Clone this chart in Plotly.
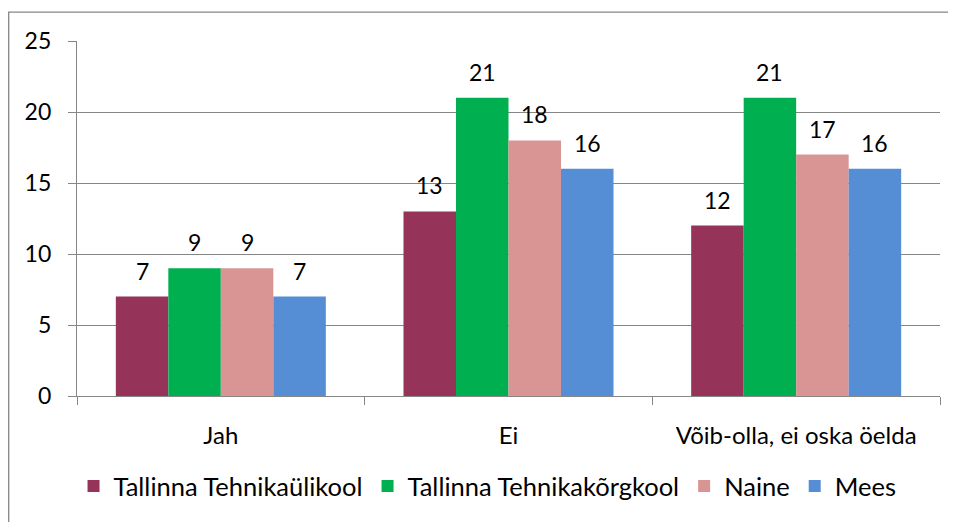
import plotly.graph_objects as go

categories = ["Jah", "Ei", "Võib-olla, ei oska öelda"]
series_names = ["Tallinna Tehnikaülikool", "Tallinna Tehnikakõrgkool", "Naine", "Mees"]
ttu = [7, 13, 12]
tthk = [9, 21, 21]
naine = [9, 18, 17]
mees = [7, 16, 16]
colors = ["#953359", "#00B050", "#D99594", "#558ED5"]

FONT = "Lato"
BARGAP = 0.27
series = [ttu, tthk, naine, mees]

fig = go.Figure()
for name, vals, col in zip(series_names, series, colors):
    fig.add_trace(go.Bar(
        x=categories, y=vals, name=name, marker=dict(color=col, line=dict(width=0)),
    ))

# data labels above bars, placed at each bar's group offset
n = len(series)
bw = (1 - BARGAP) / n
for si, vals in enumerate(series):
    off = -(1 - BARGAP) / 2 + bw * (si + 0.5)
    for ci, v in enumerate(vals):
        fig.add_annotation(x=ci + off, y=v, xref="x", yref="y", text=str(v),
                           showarrow=False, yanchor="bottom", yshift=10,
                           font=dict(family=FONT, size=23, color="#000000"))

OFF = 8  # browser body margin
L, T, R, B = 77 - OFF, 41 - OFF, 940 - OFF, 398 - OFF
W, H = 956 - OFF, 522 - OFF
pw, ph = R - L, B - T
fig.add_shape(type="rect", xref="paper", yref="paper",
              x0=(0.7 - L) / pw, x1=(W + 20 - L) / pw,
              y0=(B - (H + 20)) / ph, y1=1 + (T - 4) / ph,
              line=dict(color="#868686", width=1.3), fillcolor="rgba(0,0,0,0)", layer="below")

fig.update_layout(
    width=W, height=H,
    margin=dict(l=L, r=W - R, t=T, b=H - B),
    paper_bgcolor="white", plot_bgcolor="white",
    barmode="group", bargap=BARGAP, bargroupgap=0,
    font=dict(family=FONT, size=23, color="#000000"),
    showlegend=True,
    legend=dict(orientation="h", x=0.4757, xanchor="center", y=(B - 481) / ph, yanchor="middle",
                font=dict(family=FONT, size=25.5), itemwidth=30, tracegroupgap=0),
)
fig.update_xaxes(type="category", showline=True, linecolor="#868686", linewidth=1.3,
                 ticks="outside", ticklen=8, tickcolor="#868686", tickwidth=1.3,
                 tickson="boundaries", showgrid=False, ticklabelstandoff=18,
                 tickfont=dict(family=FONT, size=24))
fig.update_yaxes(range=[0, 25], dtick=5, showline=True, linecolor="#868686", linewidth=1.3,
                 ticks="outside", ticklen=8, tickcolor="#868686", tickwidth=1.3,
                 showgrid=True, gridcolor="#868686", gridwidth=1.3, zeroline=False,
                 ticklabelstandoff=12, tickfont=dict(family=FONT, size=23))

fig.write_html("out.html")
